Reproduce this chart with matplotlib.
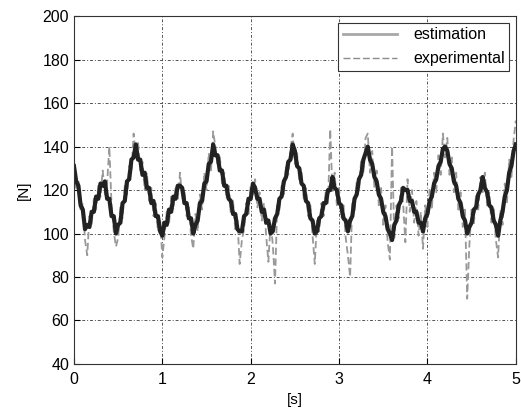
import numpy as np
import matplotlib
matplotlib.use("Agg")
import matplotlib.pyplot as plt
from matplotlib.lines import Line2D

dt = 0.025

estimation = [
    131, 124, 122, 113, 111, 102, 104, 103, 110, 110,
    117, 116, 123, 122, 124, 116, 116, 108, 108, 100,
    104, 105, 114, 115, 124, 125, 134, 135, 141, 134,
    134, 127, 128, 121, 121, 114, 115, 108, 108, 101,
    99, 105, 104, 111, 110, 117, 116, 122, 122, 121,
    114, 114, 107, 107, 100, 104, 106, 114, 115, 123,
    124, 132, 133, 141, 136, 136, 129, 129, 122, 122,
    116, 115, 109, 109, 102, 101, 101, 108, 109, 116,
    116, 123, 121, 116, 116, 110, 111, 105, 106, 100,
    101, 107, 109, 116, 117, 124, 126, 133, 134, 141,
    138, 131, 130, 123, 122, 115, 114, 107, 106, 100,
    101, 107, 108, 114, 114, 120, 120, 126, 121, 120,
    114, 113, 107, 106, 101, 106, 108, 116, 118, 125,
    127, 134, 137, 140, 134, 132, 126, 124, 118, 116,
    110, 108, 102, 100, 97, 104, 106, 113, 115, 121,
    120, 120, 115, 115, 110, 110, 105, 105, 101, 107,
    109, 115, 117, 123, 125, 131, 133, 139, 140, 138,
    132, 130, 124, 122, 116, 114, 108, 106, 100, 103,
    105, 111, 112, 118, 120, 126, 121, 119, 113, 112,
    106, 104, 99, 106, 110, 117, 120, 128, 131, 138,
    141,
]

experimental = [
    134, 120, 125, 110, 114, 97, 90, 108, 104, 116,
    111, 122, 117, 129, 118, 123, 140, 113, 101, 94,
    98, 112, 107, 122, 118, 131, 128, 146, 135, 142,
    129, 133, 120, 128, 115, 121, 108, 114, 101, 106,
    89, 99, 110, 104, 117, 111, 122, 116, 128, 116,
    120, 108, 112, 99, 93, 109, 101, 118, 111, 128,
    120, 137, 128, 147, 140, 131, 136, 123, 128, 116,
    122, 109, 115, 102, 106, 86, 97, 102, 114, 109,
    122, 117, 125, 112, 119, 106, 114, 99, 87, 105,
    95, 77, 113, 111, 122, 118, 131, 127, 139, 146,
    132, 137, 124, 129, 116, 121, 108, 113, 99, 86,
    106, 101, 114, 108, 120, 114, 148, 119, 128, 113,
    121, 107, 113, 98, 90, 80, 115, 110, 124, 119,
    134, 128, 144, 146, 128, 138, 121, 129, 113, 121,
    104, 113, 96, 88, 140, 98, 113, 107, 121, 114,
    96, 125, 110, 120, 105, 115, 99, 110, 93, 113,
    103, 121, 111, 128, 119, 136, 127, 146, 135, 144,
    127, 135, 119, 128, 111, 119, 103, 111, 70, 95,
    111, 104, 118, 111, 126, 119, 128, 113, 119, 105,
    112, 97, 89, 111, 104, 123, 114, 134, 125, 143,
    152,
]

t_est = np.arange(len(estimation)) * dt
t_exp = np.arange(len(experimental)) * dt

plt.rcParams['font.family'] = ['Liberation Sans', 'DejaVu Sans']

fig = plt.figure(figsize=(5.21, 4.15), dpi=100)
ax = fig.add_axes([0.142, 0.123, 0.848, 0.838])

ax.plot(t_exp, experimental, color='#999999', lw=1.3, ls=(0, (4, 2)))
ax.plot(t_est, estimation, color='#222222', lw=3.0)

ax.set_xlim(0, 5)
ax.set_ylim(40, 200)
ax.set_xticks([0, 1, 2, 3, 4, 5])
ax.set_yticks(np.arange(40, 201, 20))
ax.tick_params(direction='in', labelsize=11.5, length=4)
ax.tick_params(axis='x', pad=6)
ax.grid(True, color='#555555', ls=(0, (3, 2, 1, 2)), lw=0.7)
for s in ax.spines.values():
    s.set_color('#333333')

ax.set_xlabel('[s]', fontsize=11, labelpad=4)
ax.set_ylabel('[N]', fontsize=11, labelpad=8)

handles = [Line2D([], [], color='#a8a8a8', lw=2.0),
           Line2D([], [], color='#8c8c8c', lw=1.0, ls=(0, (5, 2)))]
leg = ax.legend(handles, ['estimation', 'experimental'], loc='upper right',
                fontsize=11.5, fancybox=False, framealpha=1, edgecolor='#333333',
                handlelength=3.4, handletextpad=1.0, borderpad=0.3,
                borderaxespad=0.4, labelspacing=0.55)
leg.get_frame().set_linewidth(0.8)

fig.savefig('out.png', dpi=100)
